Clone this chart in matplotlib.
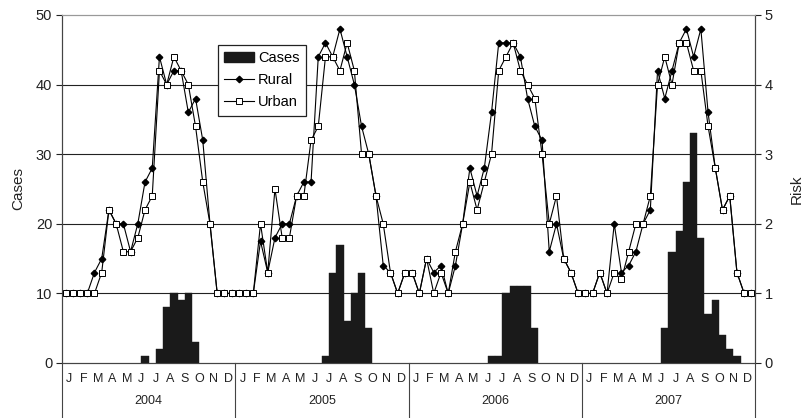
import numpy as np
import matplotlib
matplotlib.use("Agg")
import matplotlib.pyplot as plt
from matplotlib.patches import Patch
from matplotlib.lines import Line2D

plt.rcParams['font.family'] = ['Liberation Sans', 'DejaVu Sans']

years = ["2004", "2005", "2006", "2007"]
months = ["J", "F", "M", "A", "M", "J", "J", "A", "S", "O", "N", "D"]

# semi-monthly values (24 per year)
cases_2004 = [0]*11 + [1, 0, 2, 8, 10, 9, 10, 3] + [0]*5
cases_2005 = [0]*12 + [1, 13, 17, 6, 10, 13, 5] + [0]*5
cases_2006 = [0]*11 + [1, 1, 10, 11, 11, 11, 5] + [0]*6
cases_2007 = [0]*11 + [5, 16, 19, 26, 33, 18, 7, 9, 4, 2, 1] + [0]*2

rural_2004 = [1.0, 1.0, 1.0, 1.0, 1.3, 1.5, 2.2, 2.0, 2.0, 1.6, 2.0, 2.6,
              2.8, 4.4, 4.0, 4.2, 4.2, 3.6, 3.8, 3.2, 2.0, 1.0, 1.0, 1.0]
urban_2004 = [1.0, 1.0, 1.0, 1.0, 1.0, 1.3, 2.2, 2.0, 1.6, 1.6, 1.8, 2.2,
              2.4, 4.2, 4.0, 4.4, 4.2, 4.0, 3.4, 2.6, 2.0, 1.0, 1.0, 1.0]
rural_2005 = [1.0, 1.0, 1.0, 1.75, 1.3, 1.8, 2.0, 2.0, 2.4, 2.6, 2.6, 4.4,
              4.6, 4.4, 4.8, 4.4, 4.0, 3.4, 3.0, 2.4, 1.4, 1.3, 1.0, 1.3]
urban_2005 = [1.0, 1.0, 1.0, 2.0, 1.3, 2.5, 1.8, 1.8, 2.4, 2.4, 3.2, 3.4,
              4.4, 4.4, 4.2, 4.6, 4.2, 3.0, 3.0, 2.4, 2.0, 1.3, 1.0, 1.3]
rural_2006 = [1.3, 1.0, 1.5, 1.3, 1.4, 1.0, 1.4, 2.0, 2.8, 2.4, 2.8, 3.6,
              4.6, 4.6, 4.6, 4.4, 3.8, 3.4, 3.2, 1.6, 2.0, 1.5, 1.3, 1.0]
urban_2006 = [1.3, 1.0, 1.5, 1.0, 1.3, 1.0, 1.6, 2.0, 2.6, 2.2, 2.6, 3.0,
              4.2, 4.4, 4.6, 4.2, 4.0, 3.8, 3.0, 2.0, 2.4, 1.5, 1.3, 1.0]
rural_2007 = [1.0, 1.0, 1.3, 1.0, 2.0, 1.3, 1.4, 1.6, 2.0, 2.2, 4.2, 3.8,
              4.2, 4.6, 4.8, 4.4, 4.8, 3.6, 2.8, 2.2, 2.4, 1.3, 1.0, 1.0]
urban_2007 = [1.0, 1.0, 1.3, 1.0, 1.3, 1.2, 1.6, 2.0, 2.0, 2.4, 4.0, 4.4,
              4.0, 4.6, 4.6, 4.2, 4.2, 3.4, 2.8, 2.2, 2.4, 1.3, 1.0, 1.0]

cases = np.array(cases_2004 + cases_2005 + cases_2006 + cases_2007, dtype=float)
rural = np.array(rural_2004 + rural_2005 + rural_2006 + rural_2007)
urban = np.array(urban_2004 + urban_2005 + urban_2006 + urban_2007)
n = len(cases)
x = np.arange(n) + 0.5

fig = plt.figure(figsize=(8.07, 4.18), dpi=100)
ax = fig.add_axes([62/807, 1 - 363/418, 693/807, 348/418])
ax2 = ax.twinx()

mask = cases > 0
ax.bar(x[mask], cases[mask], width=1.0, color='#1a1a1a', edgecolor='#1a1a1a',
       linewidth=0.3, zorder=3)
ax.set_ylim(0, 50)
ax.set_xlim(0, n)
ax.set_yticks(np.arange(0, 51, 10))
for v in range(10, 50, 10):
    ax.axhline(v, color='#222222', lw=0.8, zorder=1)

ax2.plot(x, rural, color='black', lw=0.8, marker='D', markersize=3.3,
         markerfacecolor='black', markeredgecolor='black', zorder=4)
ax2.plot(x, urban, color='black', lw=0.8, marker='s', markersize=4,
         markerfacecolor='white', markeredgecolor='black', markeredgewidth=0.7, zorder=5)
ax2.set_ylim(0, 5)
ax2.set_yticks(np.arange(0, 6, 1))

for a in (ax, ax2):
    a.tick_params(axis='y', direction='out', length=4, width=0.8, labelsize=10.5,
                  colors='#222222', pad=3)
    for s in a.spines.values():
        s.set_color('#444444')
        s.set_linewidth(0.8)
    a.spines['top'].set_color('#999999')

ax.set_ylabel("Cases", fontsize=11, color='#222222', labelpad=8)
ax2.set_ylabel("Risk", fontsize=11, color='#222222', labelpad=12)

# month ticks
ax.set_xticks(np.arange(1, n, 2))
ax.set_xticklabels(months * len(years), fontsize=9, color='#222222')
ax.tick_params(axis='x', length=0, pad=7)

trans = ax.get_xaxis_transform()
for k in range(len(years) + 1):
    ax.plot([24 * k, 24 * k], [0, -0.16], color='#444444', lw=0.8,
            transform=trans, clip_on=False)
for k, yr in enumerate(years):
    ax.text(24 * k + 12, -0.11, yr, transform=trans, ha='center', va='center',
            fontsize=9, color='#222222')

handles = [Patch(facecolor='#1a1a1a', edgecolor='#1a1a1a'),
           Line2D([], [], color='black', lw=0.8, marker='D', markersize=3.3,
                  markerfacecolor='black'),
           Line2D([], [], color='black', lw=0.8, marker='s', markersize=4,
                  markerfacecolor='white', markeredgewidth=0.7)]
leg = ax2.legend(handles, ["Cases", "Rural", "Urban"], loc='upper left',
                 bbox_to_anchor=(0.225, 0.915), fontsize=10.5, frameon=True,
                 fancybox=False, edgecolor='#222222', framealpha=1,
                 handlelength=2.0, handletextpad=0.3, borderpad=0.45,
                 labelspacing=0.55, borderaxespad=0)
leg.get_frame().set_linewidth(0.9)

fig.savefig("out.png", dpi=100)
